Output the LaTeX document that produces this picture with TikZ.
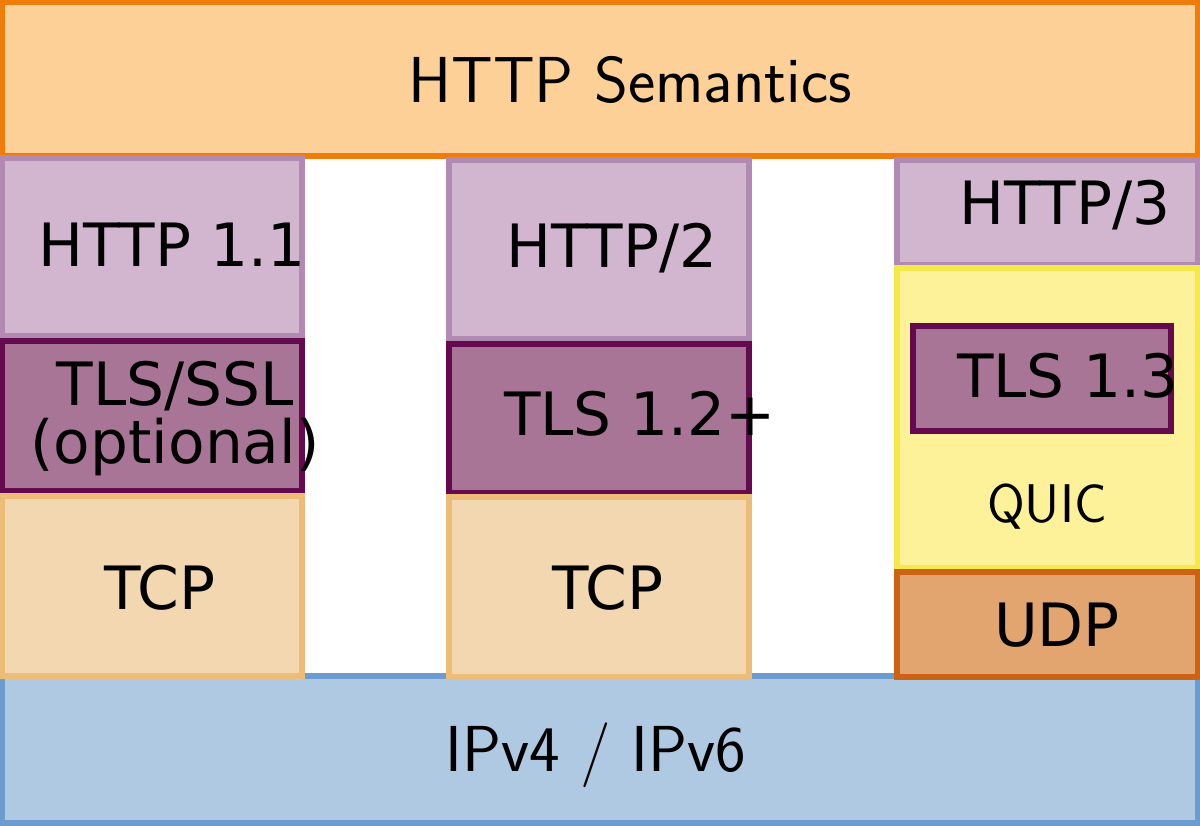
\documentclass[tikz,border=0pt]{standalone}
\usepackage{fontspec}
\newfontfamily\djv{DejaVu Sans}
\definecolor{semfill}{HTML}{FCD096}
\definecolor{semdraw}{HTML}{F07C0C}
\definecolor{httpfill}{HTML}{D2B6CF}
\definecolor{httpdraw}{HTML}{B08AB0}
\definecolor{tlsfill}{HTML}{A97597}
\definecolor{tlsdraw}{HTML}{660A50}
\definecolor{tcpfill}{HTML}{F2D7B0}
\definecolor{tcpdraw}{HTML}{EDBC76}
\definecolor{quicfill}{HTML}{FDF29A}
\definecolor{quicdraw}{HTML}{F5E84A}
\definecolor{udpfill}{HTML}{E2A570}
\definecolor{udpdraw}{HTML}{CC6214}
\definecolor{ipfill}{HTML}{AFC9E2}
\definecolor{ipdraw}{HTML}{6C9BCF}
\tikzset{
  layer/.style={line width=3pt},
  lm/.style={font=\sffamily\fontsize{37}{40}\selectfont},
  dj/.style={font=\djv\fontsize{34}{37}\selectfont}
}
\begin{document}
\begin{tikzpicture}[x=0.02cm,y=-0.02cm]
	\useasboundingbox (0,0) rectangle (1200,825);
	
	% top and bottom
	\filldraw[layer,fill=semfill,draw=semdraw] (2,2) rectangle (1198,156);
	\filldraw[layer,fill=ipfill,draw=ipdraw] (2,676) rectangle (1198,823);
	\node[lm] (sem) at (630,80) {HTTP Semantics};
	\node[lm] (ip) at (596,755) {IPv4 / IPv6};
	
	% left stack
	\filldraw[layer,fill=httpfill,draw=httpdraw] (2,158) rectangle (302,336);
	\filldraw[layer,fill=tlsfill,draw=tlsdraw] (2,341) rectangle (302,491);
	\filldraw[layer,fill=tcpfill,draw=tcpdraw] (2,496) rectangle (302,676);
	\node[dj] (h1) at (172,245) {HTTP 1.1};
	\node[dj] (tlsa) at (175,386) {TLS/SSL};
	\node[dj] (opt) at (175,447) {(optional)};
	\node[dj] (tcpa) at (160,588) {TCP};
	
	% middle stack
	\filldraw[layer,fill=httpfill,draw=httpdraw] (449,160) rectangle (749,339);
	\filldraw[layer,fill=tlsfill,draw=tlsdraw] (449,344) rectangle (749,493);
	\filldraw[layer,fill=tcpfill,draw=tcpdraw] (449,497) rectangle (749,677);
	\node[dj] (h2) at (612,248) {HTTP/2};
	\node[dj] (tlsb) at (640,414) {TLS 1.2+};
	\node[dj] (tcpb) at (608,588) {TCP};
	
	% right stack
	\filldraw[layer,fill=httpfill,draw=httpdraw] (897,160) rectangle (1198,265);
	\filldraw[layer,fill=quicfill,draw=quicdraw] (897,268) rectangle (1198,568);
	\filldraw[layer,fill=tlsfill,draw=tlsdraw] (913,326) rectangle (1171,431);
	\filldraw[layer,fill=udpfill,draw=udpdraw] (897,572) rectangle (1198,677);
	\node[dj] (h3) at (1065,205) {HTTP/3};
	\node[dj] (tlsc) at (1068,376) {TLS 1.3};
	\node[lm,font=\sffamily\fontsize{31}{34}\selectfont] (quic) at (1047,507) {QUIC};
	\node[dj] (udp) at (1057,625) {UDP};
\end{tikzpicture}
\end{document}
